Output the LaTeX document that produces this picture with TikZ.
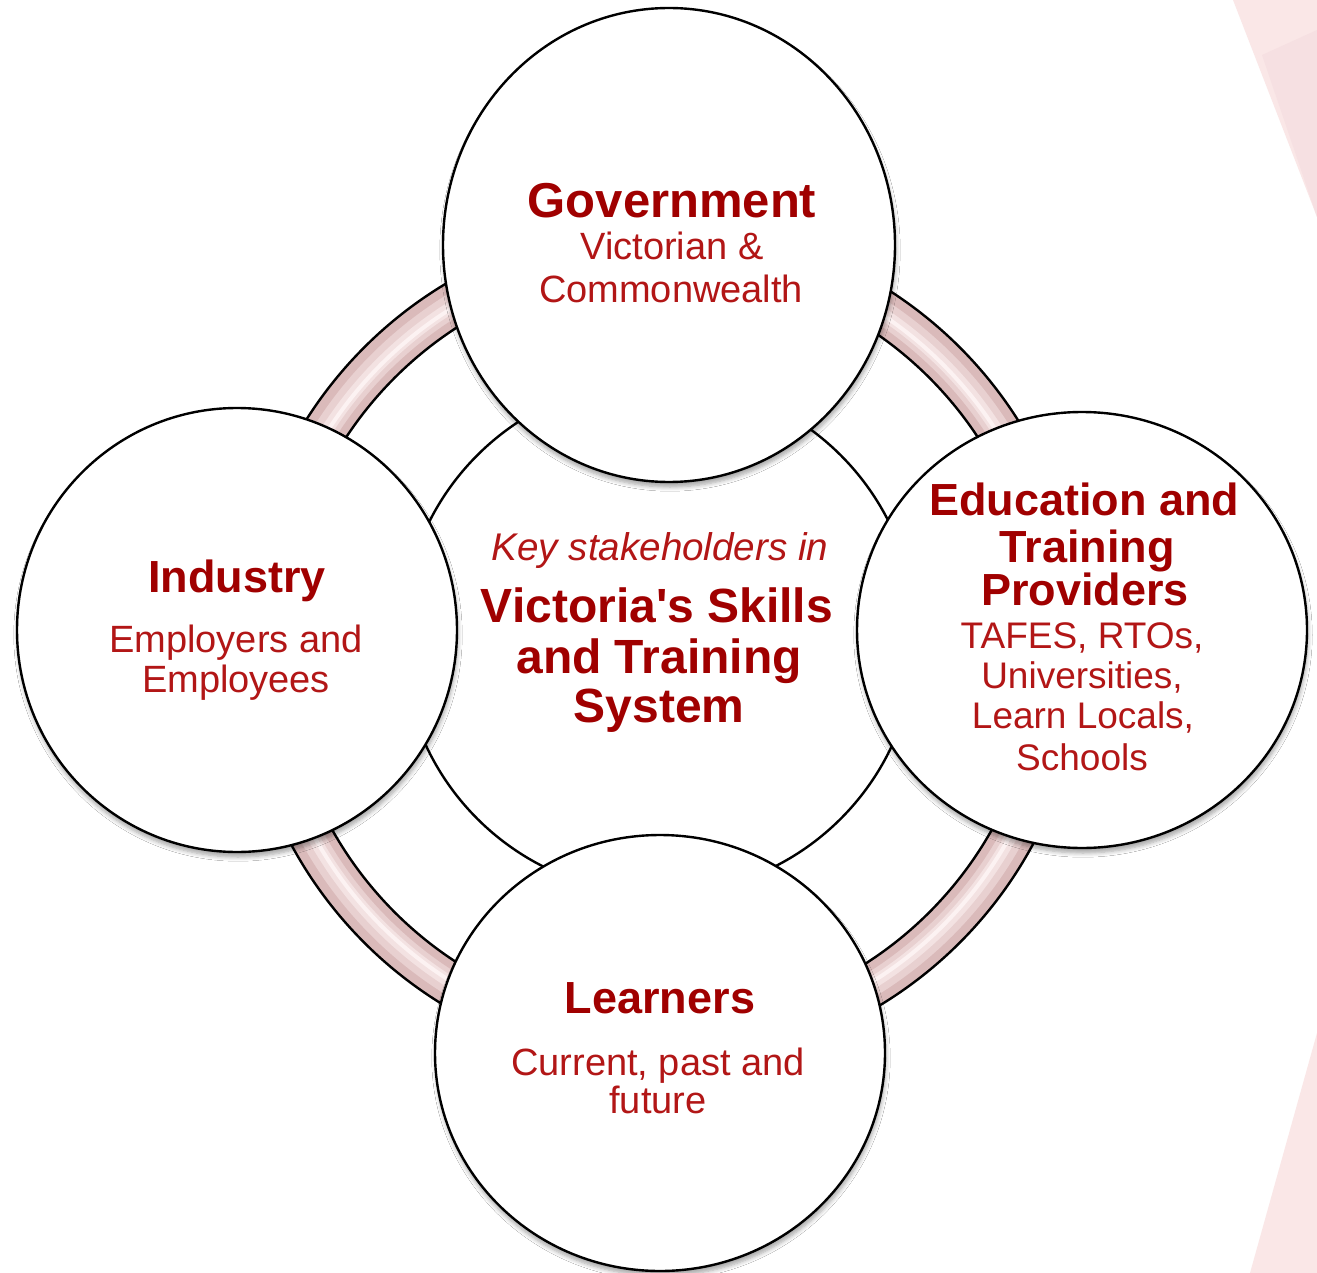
\documentclass[tikz,border=0pt]{standalone}
\usepackage{fontspec}
\setmainfont{Liberation Sans}
\usetikzlibrary{shadows.blur,shapes.geometric}
\definecolor{titlered}{RGB}{160,0,0}
\definecolor{subred}{RGB}{178,22,22}
\definecolor{ringpink}{RGB}{218,186,186}
\definecolor{ringhi}{RGB}{232,208,208}
\definecolor{ringhi2}{RGB}{243,226,226}
\definecolor{ringhi3}{RGB}{252,242,242}
\definecolor{bgpink}{RGB}{250,231,231}
\definecolor{bgpink2}{RGB}{246,224,226}
\begin{document}
\begin{tikzpicture}[x=0.5pt,y=-0.5pt,
  bubble/.style={ellipse, draw=black, line width=1.2pt, fill=white, inner sep=0pt},
  shadowed/.style={blur shadow={shadow xshift=0.5pt, shadow yshift=-2.5pt, shadow blur steps=6, shadow opacity=35}},
  ttl/.style={anchor=base, inner sep=0pt, text=titlered, font=\fontsize{22.5}{26}\selectfont\bfseries},
  sub/.style={anchor=base, inner sep=0pt, text=subred, font=\fontsize{19}{22}\selectfont}]
\useasboundingbox (0,0) rectangle (1317,1273);
\fill[white] (0,0) rectangle (1317,1273);
% background facets at the right edge
\fill[bgpink] (1233,0) -- (1317,0) -- (1317,217) -- cycle;
\fill[bgpink2] (1262,55) -- (1317,30) -- (1317,217) -- cycle;
\fill[bgpink] (1317,1033) -- (1250,1273) -- (1317,1273) -- cycle;
% ring
\coordinate (rc) at (662,645);
\fill[ringpink, even odd rule] (rc) circle[radius=210.5pt] (rc) circle[radius=189pt];
\draw[ringhi, line width=12pt] (rc) circle[radius=199.5pt];
\draw[ringhi2, line width=6pt] (rc) circle[radius=199pt];
\draw[ringhi3, line width=2pt] (rc) circle[radius=198.5pt];
\draw[line width=1.2pt] (rc) circle[radius=210.5pt] (rc) circle[radius=189pt];
% central circle
\node[bubble, minimum size=257pt] (core) at (659,637) {};
% outer circles
\node[bubble, shadowed, minimum width=226pt, minimum height=237pt] (gov) at (669,245) {};
\node[bubble, shadowed, minimum width=220pt, minimum height=222pt] (ind) at (237,630) {};
\node[bubble, shadowed, minimum width=225pt, minimum height=218pt] (edu) at (1082,630) {};
\node[bubble, shadowed, minimum width=225pt, minimum height=218pt] (lrn) at (660,1053) {};
% Government
\node[ttl, font=\fontsize{24.5}{28}\selectfont\bfseries] (govT) at (672,218) {Government};
\node[sub] (govS1) at (672,260) {Victorian \&};
\node[sub] (govS2) at (671,302) {Commonwealth};
% Industry
\node[ttl] (indT) at (237,592) {Industry};
\node[sub] (indS1) at (236,652) {Employers and};
\node[sub] (indS2) at (236,692) {Employees};
% Education
\node[ttl] (eduT1) at (1084,515) {Education and};
\node[ttl] (eduT2) at (1087,562) {Training};
\node[ttl] (eduT3) at (1085,605) {Providers};
\node[sub, font=\fontsize{18.5}{22}\selectfont] (eduS1) at (1082,648) {TAFES, RTOs,};
\node[sub, font=\fontsize{18.5}{22}\selectfont] (eduS2) at (1082,688) {Universities,};
\node[sub, font=\fontsize{18.5}{22}\selectfont] (eduS3) at (1083,728) {Learn Locals,};
\node[sub, font=\fontsize{18.5}{22}\selectfont] (eduS4) at (1082,770) {Schools};
% Centre
\node[sub, font=\fontsize{19.3}{22}\selectfont\itshape] (coreS) at (660,560) {Key stakeholders in};
\node[ttl, font=\fontsize{24}{28}\selectfont\bfseries] (coreT1) at (657,622) {Victoria\textquotesingle s Skills};
\node[ttl, font=\fontsize{24}{28}\selectfont\bfseries] (coreT2) at (659,673) {and Training};
\node[ttl, font=\fontsize{24}{28}\selectfont\bfseries] (coreT3) at (659,722) {System};
% Learners
\node[ttl] (lrnT) at (660,1013) {Learners};
\node[sub] (lrnS1) at (658,1075) {Current, past and};
\node[sub] (lrnS2) at (658,1113) {future};
\end{tikzpicture}
\end{document}
